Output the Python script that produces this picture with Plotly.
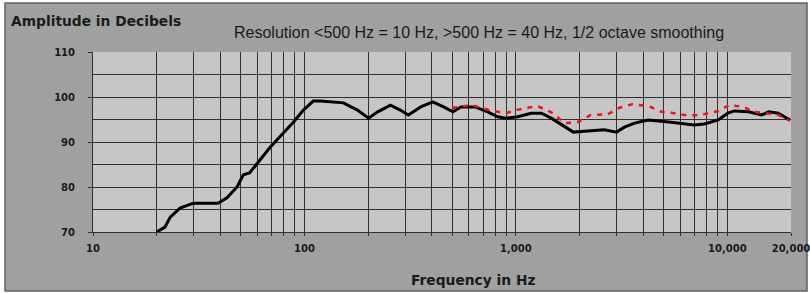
import plotly.graph_objects as go

# Black measured response (Hz, dB)
black_freq = [20, 21.9, 23.2, 25.8, 29.8, 39, 43, 48, 51.4, 55, 61.6, 69, 79.5, 88.6, 98.9,
              110, 119, 133, 153, 178, 201, 222, 255, 284, 310, 355, 404, 455, 504, 549,
              640, 736, 820, 895, 1020, 1180, 1320, 1470, 1640, 1870, 2110, 2620, 2990,
              3260, 3640, 4220, 5420, 6960, 7780, 9050, 10050, 10800, 12600, 14500, 15700,
              17400, 19800]
black_db = [70.0, 71.1, 73.3, 75.3, 76.4, 76.4, 77.6, 80.0, 82.7, 83.1, 86.0, 88.9, 92.0, 94.4, 97.1,
            99.1, 99.1, 98.9, 98.7, 97.1, 95.3, 96.7, 98.2, 97.1, 96.0, 97.8, 98.9, 97.8, 96.7, 97.8,
            97.8, 96.7, 95.6, 95.3, 95.6, 96.4, 96.4, 95.3, 93.8, 92.2, 92.4, 92.7, 92.2,
            93.3, 94.2, 94.9, 94.4, 93.8, 94.0, 94.9, 96.4, 96.9, 96.7, 96.0, 96.7,
            96.4, 94.9]

# Red dotted response (Hz, dB)
red_freq = [500, 620, 745, 890, 1050, 1260, 1500, 1700, 1960, 2260, 2730, 3080, 3550, 4220,
            4880, 5600, 6650, 7780, 9100, 10200, 11900, 13300, 15200, 17400, 19800]
red_db = [97.6, 98.2, 97.1, 96.4, 97.3, 98.0, 96.4, 94.2, 94.4, 96.0, 96.2, 97.6, 98.4, 98.0,
          96.7, 96.4, 95.8, 96.2, 96.9, 98.2, 97.8, 96.7, 96.4, 96.0, 94.7]

x_tickvals = [10, 100, 1000, 10000, 20000]
x_ticktext = ["10", "100", "1,000", "10,000", "20,000"]
y_tickvals = [70, 80, 90, 100, 110]
y_ticktext = ["70", "80", "90", "100", "110"]

W, H = 810, 293
L, R, T, B = 93, 19, 52, 61
pw, ph = W - L - R, H - T - B

def px(x):
    return (x - L) / pw

def py(y):
    return 1 - (y - T) / ph

BOLD = "DejaVu Sans, Liberation Sans, Arial"
REG = "Liberation Sans, Arial"

fig = go.Figure()
fig.add_trace(go.Scatter(x=black_freq, y=black_db, mode="lines",
                         line=dict(color="black", width=3), showlegend=False))
fig.add_trace(go.Scatter(x=red_freq, y=red_db, mode="lines",
                         line=dict(color="#e8141c", width=2.5, dash="5px,6px"), showlegend=False))

shapes = [
    dict(type="rect", xref="paper", yref="paper", x0=px(5), x1=px(807), y0=py(291), y1=py(3),
         fillcolor="#a0a0a0", line=dict(color="#606060", width=1.5), layer="below"),
    dict(type="rect", xref="paper", yref="paper", x0=0, x1=1, y0=0, y1=1,
         fillcolor="#c6c6c6", line=dict(width=0), layer="below"),
]

annotations = [
    dict(text="Amplitude in Decibels", xref="paper", yref="paper", x=px(9), y=py(21),
         xanchor="left", yanchor="middle", showarrow=False,
         font=dict(family=BOLD, size=13.8, color="#1a1a1a", weight="bold")),
    dict(text="Resolution &lt;500 Hz = 10 Hz, &gt;500 Hz = 40 Hz, 1/2 octave smoothing",
         xref="paper", yref="paper", x=px(479), y=py(33), xanchor="center", yanchor="middle",
         showarrow=False, font=dict(family=REG, size=16, color="#1a1a1a")),
    dict(text="Frequency in Hz", xref="paper", yref="paper", x=px(473), y=py(280),
         xanchor="center", yanchor="middle", showarrow=False,
         font=dict(family=BOLD, size=13.8, color="#1a1a1a", weight="bold")),
]

fig.update_layout(
    width=W, height=H,
    margin=dict(l=L, r=R, t=T, b=B, pad=0, autoexpand=False),
    paper_bgcolor="white",
    plot_bgcolor="rgba(0,0,0,0)",
    shapes=shapes,
    annotations=annotations,
    showlegend=False,
)

fig.update_xaxes(
    type="log", range=[1, 4.30103], automargin=False,
    tickmode="array", tickvals=x_tickvals, ticktext=x_ticktext,
    ticks="outside", ticklen=3, tickcolor="#303030",
    tickfont=dict(family=BOLD, size=10, color="#1a1a1a", weight="bold"),
    ticklabeloverflow="allow",
    showgrid=True, gridcolor="#303030", gridwidth=1,
    minor=dict(tickmode="array",
               tickvals=[20, 30, 40, 50, 60, 70, 80, 90, 200, 300, 400, 500, 600, 700, 800, 900,
                         2000, 3000, 4000, 5000, 6000, 7000, 8000, 9000],
               showgrid=True, gridcolor="#303030", gridwidth=1,
               ticks="outside", ticklen=3, tickcolor="#303030"),
    showline=True, linecolor="#303030", linewidth=1,
    zeroline=False, ticklabelstandoff=4,
)
fig.update_yaxes(
    range=[70, 110], automargin=False,
    tickmode="array", tickvals=y_tickvals, ticktext=y_ticktext,
    ticks="outside", ticklen=4, tickcolor="#303030",
    tickfont=dict(family=BOLD, size=10, color="#1a1a1a", weight="bold"),
    showgrid=True, gridcolor="#303030", gridwidth=1,
    minor=dict(tickmode="array", tickvals=[75, 85, 95, 105], showgrid=True,
               gridcolor="#303030", gridwidth=1, ticks=""),
    showline=True, linecolor="#303030", linewidth=1,
    zeroline=False, ticklabelstandoff=11,
)

fig.write_html("out.html", config={"displayModeBar": False},
               post_script="document.body.style.margin='0';")
